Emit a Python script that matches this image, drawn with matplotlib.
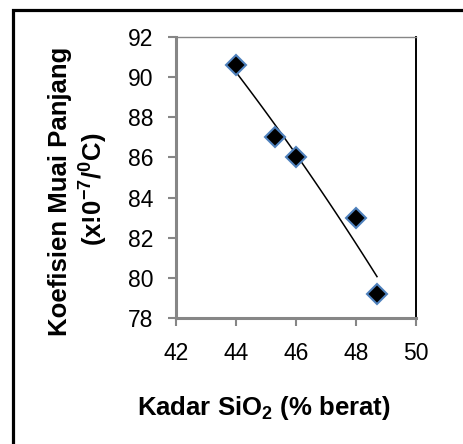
import numpy as np
import matplotlib
matplotlib.use('Agg')
import matplotlib.pyplot as plt
from matplotlib.patches import Rectangle

plt.rcParams['font.family'] = ['Liberation Sans', 'DejaVu Sans']
plt.rcParams['mathtext.fontset'] = 'custom'
plt.rcParams['mathtext.rm'] = 'Liberation Sans:bold'
plt.rcParams['mathtext.bf'] = 'Liberation Sans:bold'

# data
sio2 = [44.0, 45.3, 46.0, 48.0, 48.7]
koef = [90.6, 87.0, 86.0, 83.0, 79.2]
xticks = [42, 44, 46, 48, 50]
yticks = [78, 80, 82, 84, 86, 88, 90, 92]

axis_grey = '#868686'
marker_edge = '#4F81BD'

fig = plt.figure(figsize=(4.64, 4.44), dpi=100)
ax = fig.add_axes([176 / 464, 1 - 318 / 444, 240 / 464, 281 / 444])

# polynomial (order 2) trend line, like the spreadsheet trendline
coef = np.polyfit(sio2, koef, 2)
xs = np.linspace(min(sio2), max(sio2), 100)
ax.plot(xs, np.polyval(coef, xs), color='black', lw=1.1, zorder=2)

ax.plot(sio2, koef, linestyle='none', marker='D', markersize=10.5,
        markerfacecolor='black', markeredgecolor=marker_edge,
        markeredgewidth=1.5, zorder=3)

ax.set_xlim(42, 50)
ax.set_ylim(78, 92)
ax.set_xticks(xticks)
ax.set_yticks(yticks)
ax.set_xticklabels([str(v) for v in xticks])
ax.set_yticklabels([str(v) for v in yticks])

for side in ['left', 'bottom']:
    ax.spines[side].set_color(axis_grey)
    ax.spines[side].set_linewidth(2.2)
ax.spines['top'].set_color(axis_grey)
ax.spines['top'].set_linewidth(1.0)
ax.spines['right'].set_color('black')
ax.spines['right'].set_linewidth(1.4)

ax.tick_params(axis='both', direction='out', length=5.5, width=1.5,
               color=axis_grey, labelsize=16.5, top=False, right=False)
ax.tick_params(axis='y', pad=11)
ax.tick_params(axis='x', pad=12)

# axis titles
fig.text(60 / 464, 1 - 191 / 444, 'Koefisien Muai Panjang', rotation=90,
         ha='center', va='center', fontsize=18.5, fontweight='bold')
fig.text(93 / 464, 1 - 189 / 444,
         r'(x!0$^{\mathbf{-7}}$/$^{\mathbf{0}}$C)', rotation=90,
         ha='center', va='center', fontsize=18.5, fontweight='bold')
fig.text(264 / 464, 1 - 415 / 444, r'Kadar SiO$_{\mathbf{2}}$ (% berat)',
         ha='center', va='baseline', fontsize=18.5, fontweight='bold')

# outer chart frame (only top and left edges fall inside the image)
fig.patches.append(Rectangle((13.5 / 464, -0.5), 2, 1 - 10.5 / 444 + 0.5,
                             transform=fig.transFigure, fill=False,
                             edgecolor='black', linewidth=2.3,
                             clip_on=False))

fig.savefig('out.png', dpi=100)
